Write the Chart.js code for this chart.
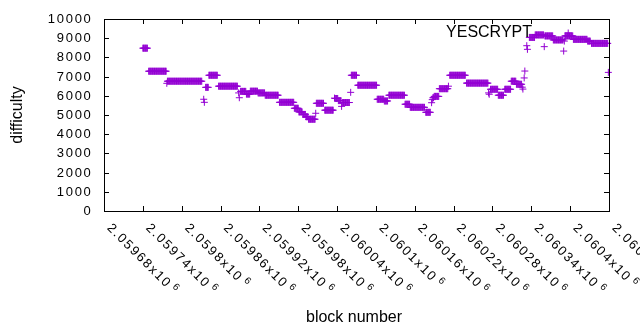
<!DOCTYPE html>
<html><head><meta charset="utf-8">
<script src="https://cdn.jsdelivr.net/npm/chart.js@4.4.1/dist/chart.umd.min.js"></script>
<style>html,body{margin:0;padding:0;background:#fff}</style>
</head><body>
<canvas id="c" width="640" height="330" style="width:640px;height:330px;display:block"></canvas>
<script>
// Runs of consecutive blocks with the same difficulty
const runStart = [2059740,2059749,2059777,2059778,2059834,2059835,2059837,2059842,2059857,2059888,2059889,2059891,2059900,2059906,2059918,2059929,2059951,2059974,2059981,2059987,2059992,2059996,2060007,2060008,2060021,2060036,2060037,2060042,2060047,2060048,2060061,2060062,2060072,2060102,2060113,2060120,2060145,2060153,2060177,2060186,2060187,2060188,2060190,2060198,2060212,2060214,2060240,2060274,2060275,2060277,2060289,2060299,2060309,2060317,2060326,2060327,2060329,2060330,2060333,2060334,2060337,2060346,2060360,2060361,2060374,2060390,2060391,2060392,2060397,2060405,2060427,2060433,2060459];
const runEnd   = [2059747,2059776,2059777,2059831,2059834,2059835,2059841,2059855,2059886,2059888,2059889,2059899,2059905,2059917,2059928,2059949,2059973,2059980,2059986,2059991,2059995,2060006,2060007,2060019,2060034,2060036,2060041,2060046,2060047,2060059,2060061,2060070,2060101,2060112,2060118,2060144,2060152,2060175,2060184,2060186,2060187,2060189,2060197,2060211,2060212,2060238,2060273,2060274,2060275,2060288,2060297,2060308,2060316,2060325,2060326,2060327,2060329,2060330,2060333,2060334,2060345,2060359,2060360,2060373,2060389,2060390,2060391,2060404,2060397,2060426,2060431,2060458,2060459];
const runDifficulty = [8480,7280,6650,6760,5820,5660,6440,7070,6500,6150,5900,6230,6090,6240,6150,6030,5660,5350,5160,5030,4910,4780,5090,5610,5250,5880,5860,5750,5450,5650,6180,7070,6550,5820,5730,6030,5560,5400,5140,5640,5800,5900,5970,6370,6500,7070,6660,6150,6080,6340,6030,6340,6760,6600,6450,6350,6930,7290,8610,8420,9040,9170,8560,9120,8910,8330,8850,9120,9270,8940,8850,8730,7220];

const xTickValues = [2059680,2059740,2059800,2059860,2059920,2059980,2060040,2060100,2060160,2060220,2060280,2060340,2060400,2060460];
const xTickLabels = ['2.05968','2.05974','2.0598','2.05986','2.05992','2.05998','2.06004','2.0601','2.06016','2.06022','2.06028','2.06034','2.0604','2.06046'];
const yTickValues = [0,1000,2000,3000,4000,5000,6000,7000,8000,9000,10000];
const seriesName = 'YESCRYPT';
const xTitle = 'block number';
const yTitle = 'difficulty';

// table for the library: one point per block
const points = [];
for (let i = 0; i < runStart.length; i++) {
  for (let b = runStart[i]; b <= runEnd[i]; b++) points.push({x: b, y: runDifficulty[i]});
}

const FONT = '"Liberation Sans", Arial, sans-serif';

const decor = {
  id: 'decor',
  afterDraw(chart) {
    const ctx = chart.ctx, a = chart.chartArea, xs = chart.scales.x, ys = chart.scales.y;
    ctx.save();
    ctx.strokeStyle = '#000'; ctx.lineWidth = 1; ctx.fillStyle = '#000';
    const L = Math.round(a.left), R = Math.round(a.right), T = Math.round(a.top), B = Math.round(a.bottom);
    ctx.strokeRect(L + 0.5, T + 0.5, R - L, B - T);
    // y ticks (inward, mirrored)
    ctx.beginPath();
    yTickValues.forEach(v => {
      const y = Math.round(ys.getPixelForValue(v)) + 0.5;
      ctx.moveTo(L, y); ctx.lineTo(L + 5, y);
      ctx.moveTo(R, y); ctx.lineTo(R - 5, y);
    });
    xTickValues.forEach(v => {
      const x = Math.round(xs.getPixelForValue(v)) + 0.5;
      ctx.moveTo(x, B); ctx.lineTo(x, B - 5);
      ctx.moveTo(x, T); ctx.lineTo(x, T + 5);
    });
    ctx.stroke();
    // y tick labels
    ctx.font = '13px ' + FONT;
    ctx.letterSpacing = '1.7px';
    ctx.textAlign = 'right'; ctx.textBaseline = 'middle';
    yTickValues.forEach(v => {
      const y = ys.getPixelForValue(v);
      ctx.fillText(String(v), 92.5, y + 0.5);
    });
    // x tick labels rotated
    xTickValues.forEach((v, i) => {
      const x = xs.getPixelForValue(v);
      ctx.save();
      ctx.translate(x + 5, B + 15);
      ctx.rotate(Math.PI / 4);
      ctx.textAlign = 'left'; ctx.textBaseline = 'middle';
      ctx.font = '13px ' + FONT;
      ctx.letterSpacing = '1.7px';
      const main = xTickLabels[i] + 'x10';
      ctx.fillText(main, 0, 0);
      const w = ctx.measureText(main).width;
      ctx.font = '10px ' + FONT;
      ctx.letterSpacing = '0px';
      ctx.fillText('6', w + 3, -4);
      ctx.restore();
    });
    ctx.letterSpacing = '0px';
    // axis titles
    ctx.font = '16px ' + FONT;
    ctx.textAlign = 'center'; ctx.textBaseline = 'alphabetic';
    ctx.fillText(xTitle, 354, 322);
    ctx.save();
    ctx.translate(22, 115);
    ctx.rotate(-Math.PI / 2);
    ctx.fillText(yTitle, 0, 0);
    ctx.restore();
    // key
    ctx.textAlign = 'right';
    ctx.fillText(seriesName, 532, 37);
    ctx.restore();
  }
};

new Chart(document.getElementById('c'), {
  type: 'scatter',
  data: { datasets: [{
    label: seriesName,
    data: points,
    pointStyle: 'cross',
    radius: 3.5,
    pointRadius: 3.5,
    borderColor: '#9400d3',
    backgroundColor: '#9400d3',
    borderWidth: 1,
    pointBorderWidth: 1,
    clip: false
  }]},
  options: {
    responsive: false,
    animation: false,
    devicePixelRatio: 1,
    layout: { padding: { left: 104, right: 31, top: 19, bottom: 119 } },
    plugins: { legend: { display: false }, tooltip: { enabled: false } },
    scales: {
      x: { type: 'linear', min: 2059680, max: 2060460, display: false },
      y: { type: 'linear', min: 0, max: 10000, display: false }
    }
  },
  plugins: [decor]
});
</script>
</body></html>
